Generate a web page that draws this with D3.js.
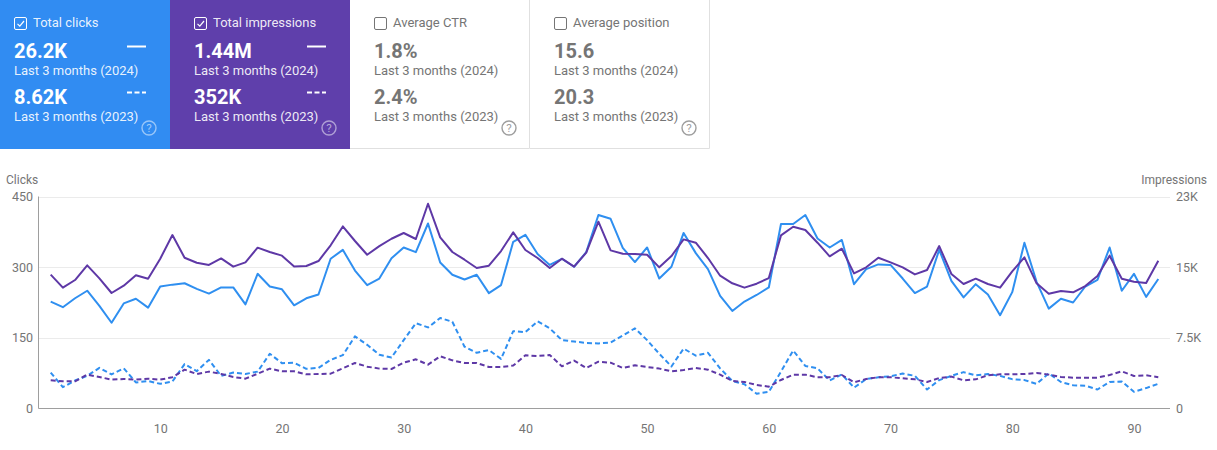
<!DOCTYPE html>
<html>
<head>
<meta charset="utf-8">
<title>Search performance</title>
<script src="https://d3js.org/d3.v7.min.js"></script>
<style>
  html, body { margin: 0; padding: 0; background: #fff; }
  svg { display: block; font-family: Roboto, sans-serif; }
  .axis text { font-size: 12.5px; fill: #757575; font-family: Roboto, sans-serif; }
  .axis path, .axis line { stroke: none; }
</style>
</head>
<body>
<svg id="chart" width="1217" height="450"></svg>
<script>
// chart values
var clicks2024 = [227, 215, 234, 250, 218, 182, 223, 233, 214, 259, 263, 266, 254, 244, 257, 257, 221, 286, 259, 253, 219, 234, 242, 318, 337, 293, 262, 276, 319, 342, 332, 393, 310, 284, 274, 284, 245, 262, 354, 369, 328, 305, 318, 301, 332, 411, 403, 341, 311, 342, 276, 301, 373, 330, 296, 239, 207, 227, 241, 257, 392, 392, 411, 361, 342, 358, 264, 296, 306, 305, 276, 245, 259, 337, 271, 236, 264, 242, 198, 247, 352, 269, 212, 233, 225, 259, 273, 342, 250, 286, 237, 275];
var impressions2024 = [14210, 12830, 13640, 15200, 13820, 12260, 13040, 14140, 13780, 15910, 18420, 16010, 15480, 15240, 15940, 15060, 15520, 17080, 16620, 16230, 15090, 15130, 15660, 17330, 19340, 17790, 16330, 17250, 18030, 18640, 18000, 21750, 18180, 16620, 15800, 14920, 15160, 16720, 18710, 16830, 15980, 14920, 15910, 15060, 16550, 19840, 16790, 16440, 16400, 16330, 14990, 16190, 17960, 17610, 15980, 14100, 13290, 12830, 13250, 13850, 18390, 19310, 18960, 17610, 16160, 16970, 14350, 14990, 16010, 15520, 14990, 14240, 14700, 17250, 14280, 13220, 13780, 13220, 12830, 14560, 16050, 13290, 12190, 12470, 12330, 13000, 14070, 16230, 13780, 13460, 13320, 15700];
var clicks2023 = [76, 45, 59, 69, 86, 72, 85, 55, 58, 52, 57, 94, 79, 103, 69, 76, 73, 78, 116, 96, 97, 84, 86, 103, 113, 153, 135, 114, 108, 145, 181, 172, 192, 184, 131, 118, 124, 105, 164, 162, 185, 170, 145, 142, 139, 138, 140, 155, 170, 145, 116, 89, 127, 112, 118, 85, 58, 51, 31, 35, 78, 123, 90, 85, 59, 72, 44, 62, 66, 68, 74, 69, 40, 60, 69, 77, 70, 73, 69, 62, 60, 52, 74, 56, 49, 48, 40, 56, 57, 35, 43, 52];
var impressions2023 = [2980, 2870, 2870, 3580, 3330, 3050, 3120, 3050, 3150, 3050, 3300, 4110, 3650, 3900, 3650, 3330, 3150, 3680, 4220, 3930, 3930, 3610, 3650, 3680, 4250, 4820, 4430, 4220, 4180, 4850, 5210, 4640, 5530, 5100, 4820, 4820, 4390, 4390, 4540, 5630, 5560, 5670, 4460, 5070, 4290, 4960, 4850, 4290, 4570, 4390, 4220, 3930, 4070, 4290, 4110, 3580, 2910, 2800, 2480, 2300, 3010, 3580, 3580, 3300, 3300, 3540, 2760, 3120, 3300, 3300, 3190, 3080, 2800, 3220, 3370, 2980, 3080, 3510, 3610, 3610, 3650, 3760, 3580, 3330, 3260, 3260, 3260, 3540, 3930, 3440, 3510, 3300];

var clickTicks = [0, 150, 300, 450];
var impressionTicks = [0, 7500, 15000, 22500];
var impressionTickLabels = ["0", "7.5K", "15K", "23K"];
var dayTicks = [10, 20, 30, 40, 50, 60, 70, 80, 90];

// the four cards on top
var cardTitles = ["Total clicks", "Total impressions", "Average CTR", "Average position"];
var cardValues2024 = ["26.2K", "1.44M", "1.8%", "15.6"];
var cardValues2023 = ["8.62K", "352K", "2.4%", "20.3"];
var cardActive = [true, true, false, false];
var cardFill = ["#318cf2", "#5f3fab"];

var svg = d3.select("#chart");
var blue = "#2f8ff0", purple = "#5e38a6";
var cardWidth = 180, cardHeight = 149;

var card = svg.selectAll(".card")
    .data(cardTitles)
    .enter().append("g")
    .attr("class", "card")
    .attr("transform", function (d, i) { return "translate(" + (cardWidth * i - 10) + ",0)"; });

card.append("rect")
    .attr("x", function (d, i) { return i == 0 ? 10 : 0; })
    .attr("width", function (d, i) { return i == 0 ? cardWidth - 10 : cardWidth; })
    .attr("height", cardHeight)
    .attr("fill", function (d, i) { return cardActive[i] ? cardFill[i] : "#fff"; });

// grey border of the white cards
card.filter(function (d, i) { return !cardActive[i]; }).append("path")
    .attr("d", "M" + (cardWidth - 0.5) + ",0V" + (cardHeight - 0.5) + "H0")
    .attr("fill", "none")
    .attr("stroke", "#e0e0e0");

card.each(function (d, i) {
    var g = d3.select(this);
    var on = cardActive[i];
    var strong = on ? "#fff" : "#757575";
    var soft = on ? "rgba(255,255,255,0.9)" : "#757575";

    // checkbox
    g.append("rect")
        .attr("x", 24.5).attr("y", 17.5)
        .attr("width", 12).attr("height", 12).attr("rx", 1.5)
        .attr("fill", "none")
        .attr("stroke", on ? "#fff" : "#757575");
    if (on) {
        g.append("path")
            .attr("d", "M27.5,23.8L29.8,26.2L34,21")
            .attr("fill", "none")
            .attr("stroke", "#fff")
            .attr("stroke-width", 1.2);
    }

    g.append("text").attr("x", 43).attr("y", 27)
        .attr("font-size", 13).attr("fill", soft).text(d);

    g.append("text").attr("x", 24).attr("y", 58)
        .attr("font-size", 20).attr("font-weight", 700).attr("fill", strong).text(cardValues2024[i]);
    g.append("text").attr("x", 24).attr("y", 75)
        .attr("font-size", 13).attr("fill", soft).text("Last 3 months (2024)");

    g.append("text").attr("x", 24).attr("y", 104)
        .attr("font-size", 20).attr("font-weight", 700).attr("fill", strong).text(cardValues2023[i]);
    g.append("text").attr("x", 24).attr("y", 121)
        .attr("font-size", 13).attr("fill", soft).text("Last 3 months (2023)");

    // line samples, only on the cards that are switched on
    if (on) {
        g.append("line").attr("x1", 137).attr("x2", 156).attr("y1", 46.5).attr("y2", 46.5)
            .attr("stroke", "#fff").attr("stroke-width", 2);
        g.append("line").attr("x1", 137).attr("x2", 156).attr("y1", 92.5).attr("y2", 92.5)
            .attr("stroke", "#fff").attr("stroke-width", 2).attr("stroke-dasharray", "5 2.5");
    }

    // help icon
    g.append("circle").attr("cx", 159).attr("cy", 128).attr("r", 7)
        .attr("fill", "none")
        .attr("stroke", on ? "rgba(255,255,255,0.5)" : "#9e9e9e")
        .attr("stroke-width", 1.4);
    g.append("text").attr("x", 159).attr("y", 132.2).attr("text-anchor", "middle")
        .attr("font-size", 11.5)
        .attr("fill", on ? "rgba(255,255,255,0.55)" : "#9e9e9e")
        .text("?");
});

// scales
var x = d3.scaleLinear().domain([1, 92]).range([50.7, 1158.3]);
var yClicks = d3.scaleLinear().domain([0, 450]).range([408.3, 196.7]);
var yImpressions = d3.scaleLinear().domain([0, 22500]).range([408.3, 196.7]);

// grid
svg.append("g").selectAll("line")
    .data(clickTicks.slice(1))
    .enter().append("line")
    .attr("x1", 38.5)
    .attr("x2", 1170)
    .attr("y1", function (d) { return Math.round(yClicks(d)) + 0.5; })
    .attr("y2", function (d) { return Math.round(yClicks(d)) + 0.5; })
    .attr("stroke", "#ebebeb");

// axes
svg.append("g")
    .attr("class", "axis")
    .attr("transform", "translate(38,0)")
    .call(d3.axisLeft(yClicks).tickValues(clickTicks).tickSize(0).tickPadding(5));

svg.append("g")
    .attr("class", "axis")
    .attr("transform", "translate(1170,0)")
    .call(d3.axisRight(yImpressions).tickValues(impressionTicks).tickSize(0).tickPadding(6)
        .tickFormat(function (d, i) { return impressionTickLabels[i]; }));

svg.append("g")
    .attr("class", "axis")
    .attr("transform", "translate(0,408)")
    .call(d3.axisBottom(x).tickValues(dayTicks).tickSize(0).tickPadding(16));

svg.append("path")
    .attr("d", "M38.5,196.5V408.5H1170")
    .attr("fill", "none")
    .attr("stroke", "#9e9e9e");

svg.append("text").attr("x", 6).attr("y", 184)
    .attr("font-size", 12).attr("fill", "#757575").text("Clicks");
svg.append("text").attr("x", 1207).attr("y", 184).attr("text-anchor", "end")
    .attr("font-size", 12).attr("fill", "#757575").text("Impressions");

// lines
var clickLine = d3.line()
    .x(function (d, i) { return x(i + 1); })
    .y(function (d) { return yClicks(d); });
var impressionLine = d3.line()
    .x(function (d, i) { return x(i + 1); })
    .y(function (d) { return yImpressions(d); });

function addLine(values, gen, color, dash) {
    svg.append("path")
        .datum(values)
        .attr("d", gen)
        .attr("fill", "none")
        .attr("stroke", color)
        .attr("stroke-width", 2)
        .attr("stroke-linejoin", "round")
        .attr("stroke-dasharray", dash);
}

addLine(clicks2023, clickLine, blue, "5 3");
addLine(impressions2023, impressionLine, purple, "5 3");
addLine(clicks2024, clickLine, blue, null);
addLine(impressions2024, impressionLine, purple, null);
</script>
</body>
</html>
